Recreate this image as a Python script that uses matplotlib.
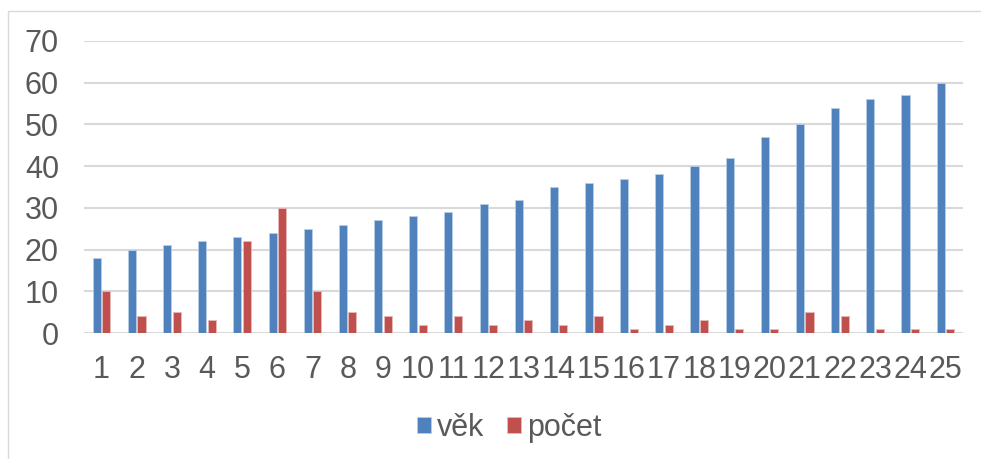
import matplotlib.pyplot as plt
import numpy as np

categories = [str(i) for i in range(1, 26)]
vek = [18, 20, 21, 22, 23, 24, 25, 26, 27, 28, 29, 31, 32, 35, 36, 37, 38, 40, 42, 47, 50, 54, 56, 57, 60]
pocet = [10, 4, 5, 3, 22, 30, 10, 5, 4, 2, 4, 2, 3, 2, 4, 1, 2, 3, 1, 1, 5, 4, 1, 1, 1]

plt.rcParams['font.family'] = ['Liberation Sans', 'DejaVu Sans']

fig = plt.figure(figsize=(9.81, 4.59), dpi=100)
ax = fig.add_axes([0.0856, 0.2745, 0.896, 0.6362])

x = np.arange(len(categories))
w = 0.23
ax.bar(x - 0.135, vek, width=w, color='#4F81BD', edgecolor='#B9CDE5', linewidth=0.6, label='věk', zorder=3)
ax.bar(x + 0.135, pocet, width=w, color='#C0504D', edgecolor='#E6B9B8', linewidth=0.6, label='počet', zorder=3)

ax.set_xlim(-0.5, len(categories) - 0.5)
ax.set_ylim(0, 70)
ax.set_yticks(range(0, 71, 10))
ax.set_xticks(x)
ax.set_xticklabels(categories)
ax.grid(axis='y', color='#D9D9D9', linewidth=1.5, zorder=0)
ax.tick_params(axis='both', length=0, labelsize=22, colors='#595959')
ax.tick_params(axis='x', pad=16)
ax.tick_params(axis='y', pad=18)
for s in ax.spines.values():
    s.set_visible(False)

ax.legend(loc='center', bbox_to_anchor=(0.484, -0.325), ncol=2, frameon=False,
          fontsize=22, labelcolor='#595959', handlelength=0.46, handleheight=0.46,
          handletextpad=0.2, columnspacing=0.75)

# chart border (no right edge visible)
fig.patches.append(plt.Rectangle((0.008, -0.01), 1.5, 0.986, transform=fig.transFigure,
                                 fill=False, edgecolor='#D9D9D9', linewidth=1))

plt.savefig('out.png', dpi=100)
